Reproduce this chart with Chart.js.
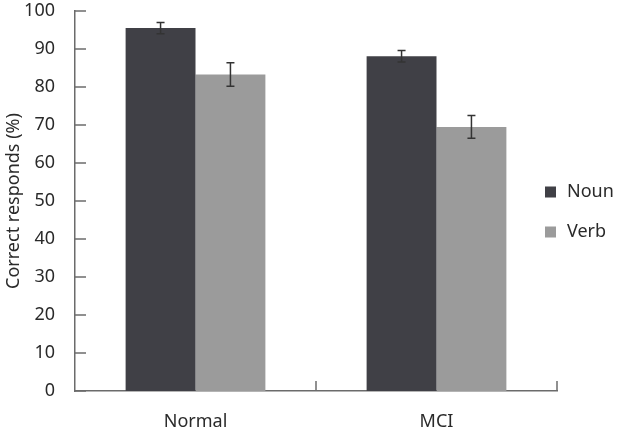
<!DOCTYPE html>
<html>
<head>
<meta charset="utf-8">
<script src="https://cdn.jsdelivr.net/npm/chart.js@4"></script>
<style>
  body{margin:0;background:#fff;}
  #wrap{width:617px;height:439px;}
</style>
</head>
<body>
<div id="wrap"><canvas id="chart" width="617" height="439"></canvas></div>
<script>
// ---------------- DATA ----------------
const groups = ["Normal", "MCI"];
const nounVals = [95.5, 88.1];
const verbVals = [83.3, 69.5];
const nounErr = [1.5, 1.5];
const verbErr = [3.1, 3.0];
const yTicks = [0, 10, 20, 30, 40, 50, 60, 70, 80, 90, 100];

const FONT = "'Noto Sans', sans-serif";
const AXIS = "#6b6b6b";
const TEXT = "#2a2a2a";

// error bars, inward ticks and legend
const extras = {
  id: "extras",
  afterDatasetsDraw(c){
    const ctx = c.ctx;
    const y = c.scales.y, x = c.scales.x;
    const area = c.chartArea;
    const errs = [nounErr, verbErr];

    ctx.save();
    // error bars
    ctx.strokeStyle = "#333";
    ctx.lineWidth = 1.5;
    c.data.datasets.forEach((ds, di) => {
      const meta = c.getDatasetMeta(di);
      meta.data.forEach((bar, i) => {
        const v = ds.data[i], e = errs[di][i];
        const top = y.getPixelForValue(v + e);
        const bot = y.getPixelForValue(v - e);
        ctx.beginPath();
        ctx.moveTo(bar.x, top); ctx.lineTo(bar.x, bot);
        ctx.moveTo(bar.x - 4, top); ctx.lineTo(bar.x + 4, top);
        ctx.moveTo(bar.x - 4, bot); ctx.lineTo(bar.x + 4, bot);
        ctx.stroke();
      });
    });

    // y ticks pointing inward
    ctx.strokeStyle = AXIS;
    ctx.lineWidth = 1.5;
    yTicks.forEach(t => {
      const py = y.getPixelForValue(t);
      ctx.beginPath();
      ctx.moveTo(area.left, py); ctx.lineTo(area.left + 11, py);
      ctx.stroke();
    });

    // x ticks at category boundaries, pointing up
    const half = (x.getPixelForValue(1) - x.getPixelForValue(0)) / 2;
    groups.forEach((g, i) => {
      const px = x.getPixelForValue(i) + half;
      ctx.beginPath();
      ctx.moveTo(px, area.bottom); ctx.lineTo(px, area.bottom - 10);
      ctx.stroke();
    });

    // legend
    ctx.font = "18px " + FONT;
    ctx.textBaseline = "middle";
    ctx.textAlign = "left";
    c.data.datasets.forEach((ds, di) => {
      const ly = 192 + di * 40;
      ctx.fillStyle = ds.backgroundColor;
      ctx.fillRect(545, ly - 5.5, 11, 11);
      ctx.fillStyle = TEXT;
      ctx.fillText(ds.label, 567, ly);
    });
    ctx.restore();
  }
};

new Chart(document.getElementById("chart"), {
  type: "bar",
  data: {
    labels: groups,
    datasets: [
      {label: "Noun", data: nounVals, backgroundColor: "#404046",
       categoryPercentage: 0.58, barPercentage: 1.0},
      {label: "Verb", data: verbVals, backgroundColor: "#9b9b9b",
       categoryPercentage: 0.58, barPercentage: 1.0}
    ]
  },
  options: {
    responsive: false,
    animation: false,
    layout: {padding: {top: 11, right: 60, left: 0, bottom: 0}},
    plugins: {legend: {display: false}, tooltip: {enabled: false}},
    scales: {
      x: {
        grid: {display: false},
        border: {color: AXIS, width: 1.5},
        ticks: {color: TEXT, font: {family: FONT, size: 18}, padding: 12},
        afterFit(s){ s.height = 48; }
      },
      y: {
        min: 0, max: 100,
        afterBuildTicks(s){ s.ticks = yTicks.map(v => ({value: v})); },
        grid: {display: false},
        border: {color: AXIS, width: 1.5},
        ticks: {color: TEXT, font: {family: FONT, size: 18}, padding: 12},
        title: {display: true, text: "Correct responds (%)", color: TEXT,
                font: {family: FONT, size: 18}, padding: {top: 3, bottom: 0}},
        afterFit(s){ s.width = 75; s.paddingTop = 0; s.paddingBottom = 0; }
      }
    }
  },
  plugins: [extras]
});
</script>
</body>
</html>
